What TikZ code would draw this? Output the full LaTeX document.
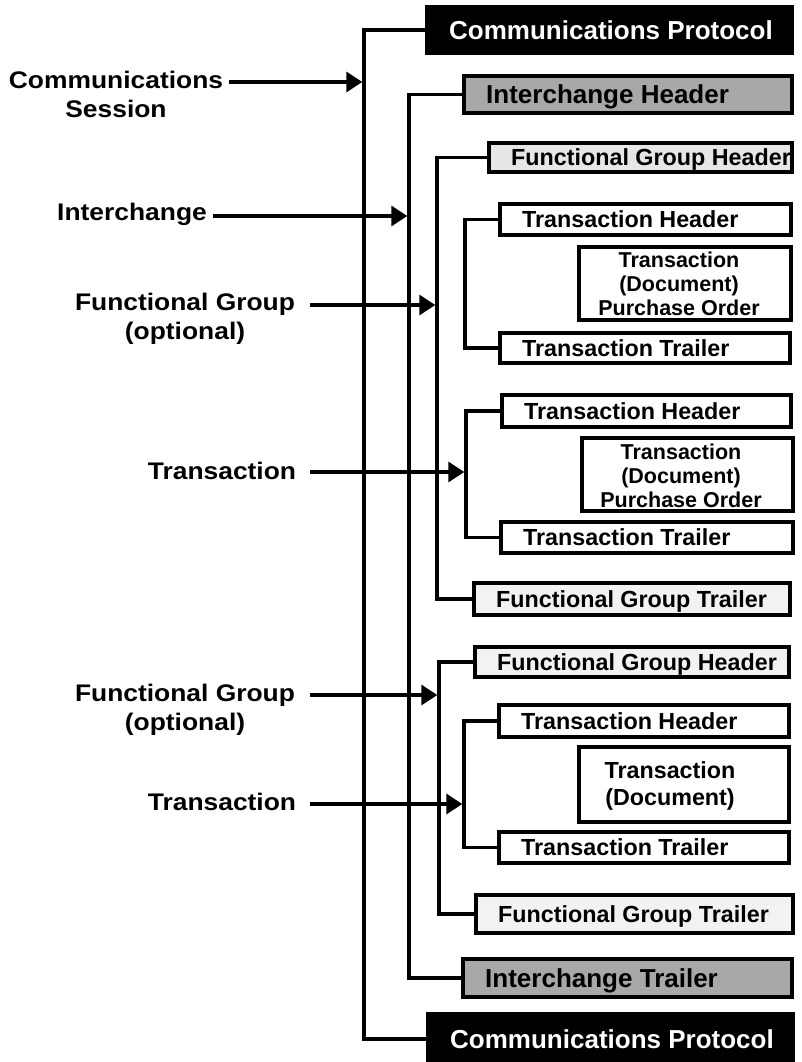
\documentclass[tikz,border=0pt]{standalone}
\usepackage{fontspec}
\setmainfont{Liberation Sans}
\newfontfamily\labfont[FakeStretch=1.1]{Liberation Sans}
\usetikzlibrary{arrows.meta}
\definecolor{midgray}{HTML}{A8A8A8}
\definecolor{lightgray1}{HTML}{E6E6E6}
\definecolor{lightgray2}{HTML}{F2F2F2}
\tikzset{
  bxs/.style={draw=black, line width=3.4pt, outer sep=0pt, inner sep=0pt, anchor=north west},
  cpbox/.style={bxs, fill=black},
  icbox/.style={bxs, fill=midgray},
  fgbox/.style={bxs, fill=lightgray2},
  fgboxa/.style={bxs, fill=lightgray1},
  trbox/.style={bxs, fill=white},
  bigtxt/.style={anchor=west, inner sep=0pt, text height=18.6pt, text depth=0pt, font=\fontsize{26}{30}\selectfont\bfseries},
  cptxt/.style={bigtxt, text=white},
  midtxt/.style={anchor=west, inner sep=0pt, text height=16.7pt, text depth=0pt, font=\fontsize{23.3}{28}\selectfont\bfseries},
  doctxt/.style={align=center, inner sep=0pt, font=\fontsize{21.5}{24}\selectfont\bfseries},
  doctxtb/.style={align=center, inner sep=0pt, font=\fontsize{23.3}{27}\selectfont\bfseries},
  labtxt/.style={align=center, inner sep=0pt, font=\labfont\fontsize{24}{29}\selectfont\bfseries},
  bracket/.style={draw=black, line width=3.4pt},
  arr/.style={draw=black, line width=3.4pt, -{Triangle[length=16pt,width=20pt]}, shorten >=1.7pt},
}
% name x1 y1 x2 y2 boxstyle textstyle text
\newcommand\mybx[8]{%
  \node[#6, minimum width={#4-#2}, minimum height={#5-#3}] (#1) at (#2,#3) {};
  \node[#7] (#1t) at ([xshift=22pt]#1.west) {#8};}
\begin{document}
\begin{tikzpicture}[x=1pt,y=-1pt]
\useasboundingbox (0,0) rectangle (802,1062);
% boxes
\mybx{cpT}{427}{7}{792}{53}{cpbox}{cptxt}{Communications Protocol}
\mybx{ih}{464}{76}{792}{113}{icbox}{bigtxt}{Interchange Header}
\mybx{fgh1}{489}{143}{792}{172}{fgboxa}{midtxt}{Functional Group Header}
\mybx{th1}{500}{204}{791}{235}{trbox}{midtxt}{Transaction Header}
\node[trbox, minimum width=212, minimum height=73] (doc1) at (579,247) {};
\node[doctxt] (doc1t) at (679,284) {Transaction\\(Document)\\Purchase Order};
\mybx{tt1}{500}{333}{790}{363}{trbox}{midtxt}{Transaction Trailer}
\mybx{th2}{502}{395}{791}{427}{trbox}{midtxt}{Transaction Header}
\node[trbox, minimum width=211, minimum height=73] (doc2) at (582,438) {};
\node[doctxt] (doc2t) at (681,476) {Transaction\\(Document)\\Purchase Order};
\mybx{tt2}{501}{522}{793}{553}{trbox}{midtxt}{Transaction Trailer}
\mybx{fgt1}{474}{583}{790}{615}{fgbox}{midtxt}{Functional Group Trailer}
\mybx{fgh2}{475}{647}{789}{677}{fgbox}{midtxt}{Functional Group Header}
\mybx{th3}{499}{705}{789}{737}{trbox}{midtxt}{Transaction Header}
\node[trbox, minimum width=210, minimum height=75] (doc3) at (579,747) {};
\node[doctxtb] (doc3t) at (670,786) {Transaction\\(Document)};
\mybx{tt3}{499}{832}{789}{863}{trbox}{midtxt}{Transaction Trailer}
\mybx{fgt2}{476}{895}{793}{933}{fgbox}{midtxt}{Functional Group Trailer}
\mybx{it}{463}{959}{792}{997}{icbox}{bigtxt}{Interchange Trailer}
\mybx{cpB}{428}{1014}{793}{1064}{cpbox}{cptxt}{Communications Protocol}
% spines
\coordinate (S1) at (364,500);
\coordinate (S2) at (409,500);
\coordinate (S3a) at (437,400);
\coordinate (T1) at (465,280);
\coordinate (T2) at (466,470);
\coordinate (S3b) at (439,800);
\coordinate (T3) at (464,780);
\draw[bracket] (cpT.west) -| (S1) |- (cpB.west);
\draw[bracket] (ih.west) -| (S2) |- (it.west);
\draw[bracket] (fgh1.west) -| (S3a) |- (fgt1.west);
\draw[bracket] (th1.west) -| (T1) |- (tt1.west);
\draw[bracket] (th2.west) -| (T2) |- (tt2.west);
\draw[bracket] (fgh2.west) -| (S3b) |- (fgt2.west);
\draw[bracket] (th3.west) -| (T3) |- (tt3.west);
% labels
\node[labtxt] (lcs) at (116,94) {Communications\\Session};
\node[labtxt] (lic) at (132,214) {Interchange};
\node[labtxt] (lfg1) at (185,319) {Functional Group\\(optional)};
\node[labtxt] (ltr1) at (222,471) {Transaction};
\node[labtxt] (lfg2) at (185,710) {Functional Group\\(optional)};
\node[labtxt] (ltr2) at (222,802) {Transaction};
% arrows
\coordinate (acs) at (229,82);
\coordinate (aic) at (213,216);
\coordinate (afg1) at (310,305);
\coordinate (atr1) at (310,472);
\coordinate (afg2) at (310,695);
\coordinate (atr2) at (310,804);
\draw[arr] (acs) -- (acs -| S1);
\draw[arr] (aic) -- (aic -| S2);
\draw[arr] (afg1) -- (afg1 -| S3a);
\draw[arr] (atr1) -- (atr1 -| T2);
\draw[arr] (afg2) -- (afg2 -| S3b);
\draw[arr] (atr2) -- (atr2 -| T3);
\end{tikzpicture}
\end{document}
